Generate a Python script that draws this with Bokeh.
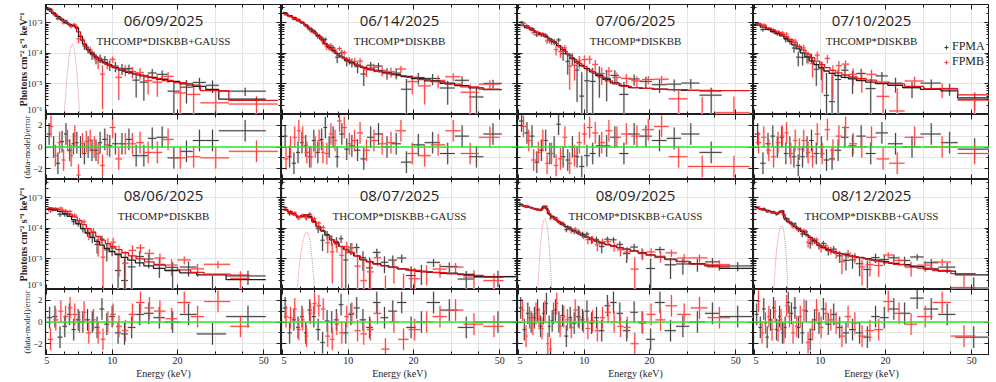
import numpy as np
from bokeh.plotting import figure
from bokeh.layouts import gridplot
from bokeh.models import (Range1d, LogAxis, LinearAxis, FixedTicker, CustomJSTickFormatter,
                          Span, Label, Legend, LegendItem)
from bokeh.embed import file_html
from bokeh.resources import INLINE

# ---------------- data ----------------
DATES = ["06/09/2025", "06/14/2025", "07/06/2025", "07/10/2025",
         "08/06/2025", "08/07/2025", "08/09/2025", "08/12/2025"]
MODELS = ["THCOMP*DISKBB+GAUSS", "THCOMP*DISKBB", "THCOMP*DISKBB", "THCOMP*DISKBB",
          "THCOMP*DISKBB", "THCOMP*DISKBB+GAUSS", "THCOMP*DISKBB+GAUSS", "THCOMP*DISKBB+GAUSS"]
X_TICKS = [5, 10, 20, 50]
X_MINOR = [6, 7, 8, 9, 30, 40]
Y_TICKS = [1e-6, 1e-5, 1e-4, 1e-3]
R_TICKS = [-2, 0, 2]
R_MINOR = [-3, -1, 1, 3]
LEGEND = ["FPMA", "FPMB"]

# Each panel: bin edges (keV), model log10(photons cm^-2 s^-1 keV^-1),
# residual (data-model)/error, relative 1-sigma error, for FPMA (A) and FPMB (B)
P1_EA = [5.0, 5.25, 5.5, 5.75, 6.0, 6.25, 6.5, 6.75, 7.0, 7.3, 7.6, 7.9, 8.25, 8.6, 9.0, 9.5, 10.0, 10.7, 11.5, 12.4, 13.4, 14.6, 16.0, 18.0, 20.5, 23.5, 27.0, 31.0, 51.0]
P1_MA = [-2.58, -2.69, -2.80, -2.91, -3.00, -3.06, -3.10, -3.18, -3.45, -3.70, -3.88, -4.00, -4.12, -4.22, -4.31, -4.39, -4.47, -4.55, -4.62, -4.68, -4.74, -4.79, -4.85, -4.92, -5.00, -5.08, -5.18, -5.50]
P1_RA = [1.2, 0.0, -1.5, 0.5, 1.2, -0.3, 0.3, 0.4, 0.0, -0.6, 0.0, -0.3, -0.3, 0.4, 0.7, 0.1, 0.3, 0.3, 0.7, -0.8, -0.8, 0.8, 0.9, -1.0, -0.4, 0.6, 0.6, 1.5]
P1_SA = [0.08, 0.09, 0.10, 0.10, 0.11, 0.12, 0.13, 0.14, 0.18, 0.22, 0.26, 0.30, 0.33, 0.35, 0.38, 0.40, 0.42, 0.44, 0.45, 0.46, 0.47, 0.50, 0.50, 0.52, 0.55, 0.56, 0.60, 0.55]
P1_EB = [5.1, 5.35, 5.6, 5.85, 6.1, 6.35, 6.6, 6.85, 7.15, 7.45, 7.75, 8.1, 8.45, 8.8, 9.25, 9.75, 10.35, 11.1, 11.9, 12.9, 14.0, 15.3, 17.0, 19.2, 22.0, 25.5, 34.5, 58.0]
P1_MB = [-2.63, -2.74, -2.85, -2.95, -3.03, -3.08, -3.12, -3.30, -3.58, -3.80, -3.95, -4.07, -4.18, -4.27, -4.36, -4.44, -4.51, -4.59, -4.65, -4.71, -4.77, -4.82, -4.89, -4.96, -5.04, -5.22, -5.54]
P1_RB = [1.9, -0.8, 0.4, -1.2, 0.6, -0.8, 1.0, -2.6, 0.3, 0.5, 0.6, 0.0, -0.6, -1.7, 0.2, 1.8, -1.1, 0.3, 0.3, 0.4, -0.5, -0.5, 0.7, -1.0, -0.9, -1.0, -0.4]
P1_SB = [0.08, 0.09, 0.10, 0.10, 0.11, 0.12, 0.13, 0.16, 0.20, 0.24, 0.28, 0.31, 0.34, 0.36, 0.39, 0.41, 0.43, 0.45, 0.46, 0.47, 0.49, 0.50, 0.52, 0.54, 0.56, 0.60, 0.60]
P1_GE = [6.0, 6.1, 6.2, 6.3, 6.4, 6.5, 6.6, 6.7, 6.8, 6.9, 7.0, 7.1]
P1_GF = [-6.1, -5.4, -4.75, -4.25, -3.9, -3.72, -3.72, -3.9, -4.25, -4.75, -5.4, -6.1]

P2_EA = [5.0, 5.25, 5.5, 5.75, 6.0, 6.25, 6.5, 6.8, 7.1, 7.4, 7.7, 8.0, 8.35, 8.7, 9.1, 9.6, 10.1, 10.7, 11.4, 12.2, 13.2, 14.4, 15.8, 17.5, 19.6, 22.5, 26.5, 31.0, 36.0, 42.0, 51.0]
P2_MA = [-2.70, -2.77, -2.84, -2.92, -3.00, -3.08, -3.18, -3.30, -3.42, -3.54, -3.68, -3.80, -3.91, -4.01, -4.12, -4.22, -4.31, -4.39, -4.46, -4.52, -4.58, -4.64, -4.70, -4.76, -4.83, -4.90, -4.98, -5.06, -5.13, -5.19]
P2_RA = [1.0, -0.9, -1.5, -0.5, 0.4, 0.1, -0.9, 0.6, -0.5, 0.7, 1.8, 0.0, 0.9, -0.9, 1.2, -0.2, 0.1, -0.3, -1.1, 0.9, 1.2, 0.0, 0.3, -1.4, 0.2, 0.4, -0.6, 1.0, -0.9, 1.2]
P2_SA = [0.06, 0.07, 0.07, 0.08, 0.09, 0.10, 0.11, 0.13, 0.15, 0.17, 0.20, 0.22, 0.25, 0.27, 0.30, 0.32, 0.33, 0.35, 0.36, 0.38, 0.38, 0.40, 0.42, 0.44, 0.45, 0.48, 0.50, 0.50, 0.55, 0.50]
P2_EB = [5.05, 5.3, 5.55, 5.8, 6.05, 6.3, 6.6, 6.9, 7.2, 7.5, 7.8, 8.15, 8.5, 8.9, 9.35, 9.85, 10.4, 11.0, 11.7, 12.6, 13.7, 15.0, 16.5, 18.5, 21.0, 24.0, 28.0, 33.0, 40.0, 50.0]
P2_MB = [-2.72, -2.79, -2.86, -2.94, -3.02, -3.11, -3.22, -3.34, -3.46, -3.59, -3.73, -3.85, -3.96, -4.07, -4.17, -4.27, -4.35, -4.42, -4.49, -4.55, -4.61, -4.67, -4.73, -4.79, -4.86, -4.93, -5.01, -5.10, -5.17]
P2_RB = [-1.1, 0.0, 0.9, 1.5, 0.9, -0.5, -0.9, 0.0, 0.6, -0.5, -0.6, 1.2, 0.6, 2.4, 1.8, 0.3, 0.6, 1.3, -0.3, 0.6, 0.3, 0.4, 1.5, -0.6, -0.8, 0.2, 1.5, -0.6, 0.9]
P2_SB = [0.06, 0.07, 0.07, 0.08, 0.09, 0.10, 0.12, 0.14, 0.16, 0.18, 0.20, 0.23, 0.25, 0.28, 0.30, 0.32, 0.34, 0.35, 0.37, 0.38, 0.40, 0.41, 0.43, 0.45, 0.47, 0.50, 0.50, 0.55, 0.50]

P3_EA = [5.0, 5.3, 5.6, 5.9, 6.2, 6.5, 6.8, 7.1, 7.45, 7.8, 8.2, 8.6, 9.05, 9.5, 10.0, 10.6, 11.3, 12.2, 13.2, 14.5, 16.0, 18.0, 20.5, 24.0, 28.0, 34.0, 43.0]
P3_MA = [-3.08, -3.16, -3.24, -3.31, -3.38, -3.45, -3.53, -3.63, -3.75, -3.88, -4.02, -4.16, -4.29, -4.40, -4.50, -4.61, -4.73, -4.85, -4.97, -5.06, -5.12, -5.15, -5.17, -5.19, -5.21, -5.23]
P3_RA = [2.4, 1.3, 1.0, -1.4, -0.3, 0.6, -0.6, 0.0, 2.1, -0.9, -1.2, 0.0, -0.9, -1.8, -0.8, -0.6, 0.1, 0.1, 0.9, -0.6, 1.2, 1.0, 0.6, 0.8, 1.2, -0.5]
P3_SA = [0.10, 0.11, 0.12, 0.13, 0.14, 0.16, 0.18, 0.21, 0.25, 0.30, 0.36, 0.42, 0.50, 0.50, 0.75, 0.85, 0.90, 0.90, 0.85, 0.80, 0.75, 0.70, 0.65, 0.65, 0.60, 0.55]
P3_EB = [5.1, 5.4, 5.7, 6.0, 6.3, 6.6, 6.9, 7.25, 7.6, 7.95, 8.35, 8.8, 9.25, 9.75, 10.3, 10.9, 11.6, 12.5, 13.5, 14.8, 16.5, 18.5, 21.0, 24.5, 30.0, 40.0, 58.0]
P3_MB = [-3.10, -3.18, -3.26, -3.33, -3.40, -3.48, -3.57, -3.68, -3.80, -3.93, -4.07, -4.21, -4.33, -4.44, -4.55, -4.66, -4.78, -4.90, -5.00, -5.08, -5.12, -5.15, -5.17, -5.19, -5.21, -5.22]
P3_RB = [1.9, 0.6, -1.2, -0.5, 0.6, -1.5, -0.6, -1.7, -1.1, 0.9, -1.5, -0.8, 0.4, 1.2, 1.8, 1.3, 0.4, 1.5, 0.9, 1.2, 1.0, 1.6, 1.9, -0.9, -1.8, -1.8]
P3_SB = [0.10, 0.11, 0.12, 0.13, 0.14, 0.16, 0.19, 0.22, 0.26, 0.31, 0.37, 0.44, 0.52, 0.60, 0.70, 0.75, 0.75, 0.72, 0.70, 0.68, 0.65, 0.60, 0.58, 0.55, 0.50, 0.45]

P4_EA = [5.0, 5.3, 5.6, 5.9, 6.2, 6.5, 6.8, 7.1, 7.4, 7.75, 8.1, 8.5, 8.9, 9.35, 9.85, 10.4, 11.0, 11.7, 12.5, 13.5, 14.7, 16.2, 18.0, 20.5, 24.0, 29.0, 36.0, 43.0, 60.0]
P4_MA = [-3.08, -3.15, -3.22, -3.29, -3.36, -3.43, -3.51, -3.61, -3.73, -3.86, -3.99, -4.12, -4.25, -4.37, -4.48, -4.58, -4.66, -4.73, -4.79, -4.84, -4.89, -4.94, -4.99, -5.05, -5.12, -5.18, -5.23, -5.46]
P4_RA = [1.2, -1.5, 0.3, 1.0, 0.0, 0.9, -0.6, 0.0, -0.9, -1.7, -0.9, 0.0, 0.6, -0.6, 0.0, -1.2, -1.1, -0.3, 0.9, 0.1, 1.0, -0.6, 1.3, 0.3, 0.0, 1.2, 0.4, -0.2]
P4_SA = [0.10, 0.11, 0.12, 0.13, 0.14, 0.15, 0.17, 0.20, 0.23, 0.27, 0.32, 0.37, 0.42, 0.50, 0.60, 0.70, 0.80, 0.85, 0.80, 0.75, 0.70, 0.65, 0.60, 0.60, 0.55, 0.50, 0.50, 0.50]
P4_EB = [5.05, 5.35, 5.65, 5.95, 6.25, 6.55, 6.85, 7.15, 7.5, 7.85, 8.2, 8.6, 9.0, 9.45, 9.95, 10.5, 11.1, 11.8, 12.6, 13.6, 14.8, 16.3, 18.2, 20.8, 24.5, 30.0, 43.0, 60.0]
P4_MB = [-3.04, -3.11, -3.18, -3.25, -3.32, -3.39, -3.46, -3.55, -3.66, -3.78, -3.90, -4.02, -4.14, -4.26, -4.37, -4.47, -4.56, -4.64, -4.71, -4.77, -4.83, -4.88, -4.94, -5.00, -5.08, -5.16, -5.36]
P4_RB = [0.4, 0.9, -0.3, -0.9, 0.4, 1.0, 1.3, -0.6, 0.6, -0.2, 0.6, -0.5, -0.9, 1.2, -0.6, 1.6, -0.3, 1.0, 1.8, 0.3, 0.0, 0.9, -1.1, -1.5, 0.9, 0.0, -0.6]
P4_SB = [0.10, 0.11, 0.12, 0.13, 0.14, 0.15, 0.17, 0.20, 0.23, 0.27, 0.31, 0.36, 0.41, 0.48, 0.55, 0.62, 0.68, 0.72, 0.70, 0.68, 0.65, 0.62, 0.60, 0.58, 0.55, 0.50, 0.55]

P5_EA = [5.0, 5.3, 5.6, 5.9, 6.2, 6.5, 6.8, 7.15, 7.5, 7.9, 8.3, 8.75, 9.2, 9.7, 10.3, 11.0, 11.8, 12.8, 14.0, 15.5, 17.5, 20.5, 24.5, 33.5, 51.0]
P5_MA = [-3.38, -3.41, -3.45, -3.52, -3.61, -3.72, -3.86, -4.01, -4.16, -4.30, -4.43, -4.55, -4.66, -4.76, -4.86, -4.95, -5.04, -5.13, -5.23, -5.31, -5.38, -5.46, -5.52, -5.68]
P5_RA = [0.4, 0.5, -1.4, -0.4, 0.7, -0.7, 0.2, 0.0, 0.2, 0.0, -0.5, 1.2, -0.2, 0.5, -1.0, -1.1, -0.5, 0.7, 0.8, 0.4, 0.0, 0.7, -1.1, 0.5]
P5_SA = [0.12, 0.13, 0.14, 0.15, 0.17, 0.19, 0.22, 0.26, 0.30, 0.35, 0.40, 0.46, 0.52, 0.60, 0.70, 0.75, 0.80, 0.85, 0.85, 0.85, 0.85, 0.80, 0.75, 0.65]
P5_EB = [5.05, 5.35, 5.65, 5.95, 6.25, 6.55, 6.9, 7.25, 7.6, 8.0, 8.4, 8.85, 9.3, 9.8, 10.4, 11.1, 11.9, 12.9, 14.1, 15.6, 17.6, 20.0, 23.0, 26.5, 35.0, 43.0]
P5_MB = [-3.34, -3.37, -3.40, -3.46, -3.54, -3.63, -3.75, -3.88, -4.01, -4.14, -4.27, -4.39, -4.50, -4.60, -4.70, -4.80, -4.90, -5.00, -5.10, -5.20, -5.28, -5.36, -5.44, -5.50, -5.53]
P5_RB = [-1.6, 0.2, 1.0, 0.5, 1.3, 0.7, 0.0, 0.9, -1.0, 0.2, -1.0, -1.6, 0.0, 0.7, -0.4, -0.8, 0.7, 1.8, 1.3, 1.0, 0.3, 1.8, 0.5, 1.9, -0.4]
P5_SB = [0.12, 0.13, 0.14, 0.15, 0.17, 0.19, 0.22, 0.25, 0.29, 0.34, 0.39, 0.45, 0.50, 0.56, 0.62, 0.68, 0.72, 0.72, 0.70, 0.68, 0.66, 0.62, 0.60, 0.58, 0.55]

P6_EA = [5.0, 5.25, 5.5, 5.75, 6.0, 6.25, 6.5, 6.8, 7.1, 7.45, 7.8, 8.2, 8.6, 9.05, 9.5, 10.0, 10.6, 11.3, 12.1, 13.0, 14.1, 15.3, 16.8, 18.5, 20.5, 23.0, 26.5, 32.0, 38.0, 60.0]
P6_MA = [-3.39, -3.46, -3.54, -3.61, -3.62, -3.56, -3.62, -3.78, -3.94, -4.08, -4.22, -4.37, -4.47, -4.59, -4.69, -4.79, -4.90, -5.02, -5.09, -5.16, -5.22, -5.27, -5.32, -5.37, -5.41, -5.44, -5.47, -5.51, -5.58]
P6_RA = [1.3, -1.0, 0.2, -0.5, 0.5, -1.0, 1.1, 0.5, -0.7, -1.9, 0.1, 0.0, 0.2, 1.6, -1.0, 0.7, 1.3, 0.2, -0.5, 1.8, 0.4, 1.0, 1.8, -0.5, 0.0, 1.8, 1.1, -0.5, 0.0]
P6_SA = [0.12, 0.13, 0.14, 0.14, 0.15, 0.15, 0.17, 0.20, 0.23, 0.27, 0.32, 0.37, 0.42, 0.48, 0.55, 0.60, 0.66, 0.72, 0.75, 0.75, 0.72, 0.70, 0.68, 0.66, 0.64, 0.62, 0.60, 0.58, 0.55]
P6_EB = [5.05, 5.3, 5.55, 5.8, 6.05, 6.3, 6.55, 6.85, 7.15, 7.5, 7.85, 8.25, 8.65, 9.1, 9.6, 10.1, 10.7, 11.4, 12.2, 13.1, 14.2, 15.5, 17.0, 19.0, 21.5, 24.5, 28.5, 34.0, 42.0, 52.0]
P6_MB = [-3.41, -3.48, -3.56, -3.62, -3.60, -3.56, -3.66, -3.81, -3.96, -4.10, -4.24, -4.38, -4.49, -4.60, -4.70, -4.80, -4.91, -5.03, -5.10, -5.17, -5.23, -5.28, -5.33, -5.38, -5.42, -5.45, -5.49, -5.54, -5.60]
P6_RB = [0.5, 0.4, 1.2, -0.7, 0.2, -1.3, 0.8, 1.7, 1.5, 1.2, -1.3, -1.6, -0.2, -1.0, 0.5, 0.8, -0.8, -1.1, -0.7, 0.8, -2.5, 0.0, -1.6, -0.7, 0.0, 0.5, 1.1, -0.2, -0.4]
P6_SB = [0.12, 0.13, 0.14, 0.14, 0.15, 0.15, 0.17, 0.20, 0.23, 0.27, 0.32, 0.37, 0.42, 0.48, 0.55, 0.60, 0.66, 0.72, 0.75, 0.75, 0.35, 0.70, 0.50, 0.66, 0.64, 0.62, 0.60, 0.58, 0.55]
P6_GE = [5.8, 5.9, 6.0, 6.1, 6.2, 6.3, 6.4, 6.5, 6.6, 6.7, 6.8, 6.9, 7.0]
P6_GF = [-6.1, -5.5, -5.0, -4.65, -4.4, -4.22, -4.13, -4.13, -4.25, -4.5, -4.9, -5.45, -6.1]

P7_EA = [5.0, 5.2, 5.4, 5.6, 5.8, 6.0, 6.2, 6.4, 6.6, 6.8, 7.0, 7.25, 7.5, 7.8, 8.1, 8.45, 8.8, 9.2, 9.6, 10.05, 10.55, 11.1, 11.7, 12.4, 13.2, 14.1, 15.1, 16.3, 17.7, 19.3, 21.2, 23.5, 26.5, 30.5, 36.0, 42.0, 60.0]
P7_MA = [-3.24, -3.27, -3.30, -3.33, -3.37, -3.40, -3.40, -3.31, -3.35, -3.52, -3.63, -3.71, -3.79, -3.87, -3.95, -4.02, -4.09, -4.16, -4.22, -4.29, -4.36, -4.42, -4.48, -4.53, -4.58, -4.63, -4.68, -4.74, -4.80, -4.87, -4.94, -5.01, -5.08, -5.16, -5.23, -5.31]
P7_RA = [1.3, -0.7, 0.8, 0.0, 0.4, 1.1, -0.4, 0.8, 1.7, -0.4, 0.1, 1.1, 0.0, 0.6, -1.3, 0.4, -0.1, 0.5, 0.2, 1.0, -0.1, 0.4, -0.8, 1.5, 1.8, 0.8, -0.8, 0.9, 0.0, -1.6, 1.8, -0.8, -0.4, 0.0, 0.8, 0.5]
P7_SA = [0.05, 0.05, 0.06, 0.06, 0.06, 0.07, 0.07, 0.07, 0.08, 0.09, 0.10, 0.11, 0.12, 0.14, 0.15, 0.17, 0.19, 0.21, 0.23, 0.25, 0.27, 0.29, 0.30, 0.32, 0.33, 0.34, 0.36, 0.37, 0.38, 0.40, 0.42, 0.43, 0.45, 0.45, 0.45, 0.40]
P7_EB = [5.1, 5.3, 5.5, 5.7, 5.9, 6.1, 6.3, 6.5, 6.7, 6.9, 7.1, 7.35, 7.6, 7.9, 8.2, 8.55, 8.9, 9.3, 9.7, 10.15, 10.65, 11.2, 11.8, 12.5, 13.3, 14.2, 15.2, 16.4, 17.8, 19.4, 21.3, 23.7, 26.8, 31.0, 37.0, 47.0]
P7_MB = [-3.26, -3.29, -3.32, -3.35, -3.39, -3.41, -3.36, -3.30, -3.42, -3.57, -3.66, -3.74, -3.82, -3.90, -3.97, -4.04, -4.11, -4.18, -4.24, -4.30, -4.37, -4.43, -4.49, -4.54, -4.59, -4.64, -4.69, -4.75, -4.81, -4.88, -4.95, -5.02, -5.09, -5.17, -5.26]
P7_RB = [1.1, -1.3, 0.4, -0.2, 0.8, 0.3, -0.6, 1.0, -2.0, -2.5, 0.8, 1.7, -0.4, 0.5, 0.2, -0.5, 1.1, 0.4, 0.0, -0.6, 0.1, -0.8, 0.4, 0.9, 0.0, -0.4, -0.5, -2.0, -0.1, 0.7, 0.2, 1.5, 0.7, 1.3, 0.4]
P7_SB = [0.05, 0.05, 0.06, 0.06, 0.06, 0.07, 0.07, 0.07, 0.08, 0.09, 0.10, 0.11, 0.12, 0.14, 0.15, 0.17, 0.19, 0.21, 0.23, 0.25, 0.27, 0.29, 0.30, 0.32, 0.33, 0.34, 0.36, 0.37, 0.38, 0.40, 0.42, 0.43, 0.45, 0.45, 0.45]
P7_GE = [6.1, 6.2, 6.3, 6.4, 6.5, 6.6, 6.7, 6.8, 6.9, 7.0, 7.1]
P7_GF = [-6.1, -5.2, -4.5, -4.0, -3.75, -3.68, -3.8, -4.1, -4.6, -5.3, -6.1]

P8_EA = [5.0, 5.2, 5.4, 5.6, 5.8, 6.0, 6.2, 6.4, 6.6, 6.8, 7.0, 7.25, 7.5, 7.8, 8.1, 8.45, 8.8, 9.2, 9.65, 10.1, 10.6, 11.2, 11.9, 12.7, 13.6, 14.6, 15.8, 17.2, 18.8, 20.7, 23.0, 26.0, 30.0, 35.0, 42.0, 60.0]
P8_MA = [-3.33, -3.36, -3.39, -3.42, -3.46, -3.50, -3.52, -3.48, -3.43, -3.68, -3.78, -3.86, -3.93, -4.01, -4.10, -4.20, -4.30, -4.42, -4.55, -4.62, -4.70, -4.77, -4.82, -4.86, -4.91, -4.95, -4.99, -5.04, -5.09, -5.15, -5.19, -5.25, -5.33, -5.40, -5.52]
P8_RA = [0.7, -0.5, 1.2, -1.4, 0.2, 1.3, -0.7, 0.5, -1.0, -0.5, 1.8, 0.8, 1.3, -0.5, -1.0, 1.0, -1.6, 0.2, -0.1, 1.2, -0.2, 0.7, -0.5, -1.0, -0.7, -1.0, -1.4, 0.5, 0.4, 1.2, 0.8, 2.2, 1.2, 0.7, -1.4]
P8_SA = [0.06, 0.06, 0.07, 0.07, 0.07, 0.08, 0.08, 0.08, 0.09, 0.10, 0.11, 0.12, 0.14, 0.16, 0.18, 0.20, 0.22, 0.24, 0.26, 0.28, 0.30, 0.32, 0.34, 0.35, 0.36, 0.38, 0.40, 0.41, 0.42, 0.44, 0.46, 0.48, 0.50, 0.50, 0.45]
P8_EB = [5.1, 5.3, 5.5, 5.7, 5.9, 6.1, 6.3, 6.5, 6.7, 6.9, 7.1, 7.35, 7.65, 7.95, 8.25, 8.6, 9.0, 9.4, 9.85, 10.35, 10.9, 11.5, 12.2, 13.0, 13.9, 15.0, 16.2, 17.7, 19.5, 21.7, 24.5, 28.0, 33.0, 40.0, 52.0]
P8_MB = [-3.35, -3.38, -3.41, -3.44, -3.48, -3.51, -3.50, -3.45, -3.55, -3.73, -3.82, -3.90, -3.98, -4.06, -4.15, -4.25, -4.36, -4.48, -4.58, -4.66, -4.74, -4.80, -4.84, -4.89, -4.93, -4.97, -5.02, -5.07, -5.13, -5.18, -5.23, -5.30, -5.38, -5.48]
P8_RB = [1.9, -1.0, -0.1, 0.5, -0.7, 1.0, -0.8, 0.2, -1.0, 1.5, 0.5, -1.0, -0.4, 0.5, 1.1, -1.9, -0.7, 1.1, -0.5, 0.8, 0.2, -0.1, -1.3, 0.5, -0.1, -1.3, -0.8, -0.7, 1.9, 0.8, -0.2, 0.5, 1.8, -1.3]
P8_SB = [0.06, 0.06, 0.07, 0.07, 0.07, 0.08, 0.08, 0.08, 0.09, 0.10, 0.11, 0.12, 0.14, 0.16, 0.18, 0.20, 0.22, 0.24, 0.26, 0.28, 0.30, 0.32, 0.34, 0.35, 0.36, 0.38, 0.40, 0.41, 0.42, 0.44, 0.46, 0.48, 0.50, 0.50]
P8_GE = [6.1, 6.2, 6.3, 6.4, 6.5, 6.6, 6.7, 6.8, 6.9, 7.0, 7.1]
P8_GF = [-6.1, -5.3, -4.7, -4.3, -4.05, -3.93, -3.92, -4.1, -4.5, -5.1, -6.0]

PANELS = [
    (P1_EA, P1_MA, P1_RA, P1_SA, P1_EB, P1_MB, P1_RB, P1_SB, P1_GE, P1_GF),
    (P2_EA, P2_MA, P2_RA, P2_SA, P2_EB, P2_MB, P2_RB, P2_SB, None, None),
    (P3_EA, P3_MA, P3_RA, P3_SA, P3_EB, P3_MB, P3_RB, P3_SB, None, None),
    (P4_EA, P4_MA, P4_RA, P4_SA, P4_EB, P4_MB, P4_RB, P4_SB, None, None),
    (P5_EA, P5_MA, P5_RA, P5_SA, P5_EB, P5_MB, P5_RB, P5_SB, None, None),
    (P6_EA, P6_MA, P6_RA, P6_SA, P6_EB, P6_MB, P6_RB, P6_SB, P6_GE, P6_GF),
    (P7_EA, P7_MA, P7_RA, P7_SA, P7_EB, P7_MB, P7_RB, P7_SB, P7_GE, P7_GF),
    (P8_EA, P8_MA, P8_RA, P8_SA, P8_EB, P8_MB, P8_RB, P8_SB, P8_GE, P8_GF),
]

# ---------------- style / layout ----------------
SERIF = "Liberation Serif"
SANS = "Open Sans"
INK = "#1e1e1e"
BLACK = "#404040"
BLACK_HALO = "#d8d8d8"
RED = "#ff4040"
RED_HALO = "#ffcccc"
BLACK_MODEL = "#202020"
RED_MODEL = "#e8141a"
GAUSS_COLOR = "#e27a7a"
GREEN = "#2bea2b"

X_RANGE = (4.93, 60.3)
SPEC_RANGE = (1e-6, 3.9e-3)
RES_RANGE = (-3.0, 3.0)
Y_MINOR = [k * 10.0 ** e for e in range(-6, -2) for k in range(2, 10)]

LEFT = 45
FW = 236
SPEC_H = 110
RES_H = 65
TOP_PAD = 4
BOTTOM_PAD = 27

SUP_JS = """
const e = Math.round(Math.log10(tick));
const m = {'-':'\u207b','0':'\u2070','1':'\u00b9','2':'\u00b2','3':'\u00b3','4':'\u2074','5':'\u2075','6':'\u2076','7':'\u2077','8':'\u2078','9':'\u2079'};
return '10' + String(e).split('').map(c => m[c]).join('');
"""


def style_axis(ax, labeled, size="10px"):
    ax.major_tick_in = 5
    ax.major_tick_out = 0
    ax.minor_tick_in = 3
    ax.minor_tick_out = 0
    ax.axis_line_color = INK
    ax.axis_line_width = 1.2
    ax.major_tick_line_color = INK
    ax.minor_tick_line_color = INK
    ax.major_tick_line_width = 1
    ax.minor_tick_line_width = 1
    if labeled:
        ax.major_label_text_font = SERIF
        ax.major_label_text_font_size = size
        ax.major_label_text_color = INK
        ax.major_label_standoff = 3
    else:
        ax.formatter = CustomJSTickFormatter(code="return '';")
        ax.major_label_text_font_size = "0px"
        ax.major_label_standoff = 0


def x_axis(labeled, label=None):
    ax = LogAxis(ticker=FixedTicker(ticks=X_TICKS, minor_ticks=X_MINOR))
    if labeled:
        ax.formatter = CustomJSTickFormatter(code="return String(tick);")
    style_axis(ax, labeled, "10px")
    if label:
        ax.axis_label = label
        ax.axis_label_text_font = SERIF
        ax.axis_label_text_font_size = "10px"
        ax.axis_label_text_font_style = "normal"
        ax.axis_label_text_color = INK
        ax.axis_label_standoff = 1
        ax.major_label_standoff = 2
    return ax


def spec_y_axis(labeled, label=None):
    ax = LogAxis(ticker=FixedTicker(ticks=Y_TICKS, minor_ticks=Y_MINOR))
    if labeled:
        ax.formatter = CustomJSTickFormatter(code=SUP_JS)
    style_axis(ax, labeled, "9px")
    if label:
        ax.axis_label = label
        ax.axis_label_text_font = SERIF
        ax.axis_label_text_font_size = "10px"
        ax.axis_label_text_font_style = "bold"
        ax.axis_label_text_color = INK
        ax.axis_label_standoff = -5
    return ax


def res_y_axis(labeled, label=None):
    ax = LinearAxis(ticker=FixedTicker(ticks=R_TICKS, minor_ticks=R_MINOR))
    style_axis(ax, labeled, "9px")
    if label:
        ax.axis_label = label
        ax.axis_label_text_font = SERIF
        ax.axis_label_text_font_size = "8.5px"
        ax.axis_label_text_font_style = "normal"
        ax.axis_label_text_color = INK
        ax.axis_label_standoff = -2
    return ax


def make_fig(kind, col, top_row, bottom_row):
    left = LEFT if col == 0 else 0
    if kind == "spec":
        h = SPEC_H + (TOP_PAD if top_row else 0)
        yr, ytype = Range1d(*SPEC_RANGE), "log"
        mt, mb = (TOP_PAD if top_row else 0), 0
    else:
        h = RES_H + (BOTTOM_PAD if bottom_row else 0)
        yr, ytype = Range1d(*RES_RANGE), "linear"
        mt, mb = 0, (BOTTOM_PAD if bottom_row else 0)
    p = figure(width=FW + left, height=h, x_axis_type="log", y_axis_type=ytype,
               x_range=Range1d(*X_RANGE), y_range=yr,
               x_axis_location=None, y_axis_location=None,
               toolbar_location=None, output_backend="svg",
               min_border=0, min_border_left=left, min_border_right=0,
               min_border_top=mt, min_border_bottom=mb)
    p.outline_line_color = INK
    p.outline_line_width = 1
    p.background_fill_color = "white"
    p.border_fill_color = "white"
    lab_x = (kind == "res" and bottom_row)
    p.add_layout(x_axis(lab_x, "Energy (keV)" if lab_x else None), "below")
    p.add_layout(x_axis(False), "above")
    if kind == "spec":
        p.add_layout(spec_y_axis(col == 0, "Photons cm\u207b\u00b2 s\u207b\u00b9 keV\u207b\u00b9" if col == 0 else None), "left")
        p.add_layout(spec_y_axis(False), "right")
    else:
        p.add_layout(res_y_axis(col == 0, "(data-model)/error" if col == 0 else None), "left")
        p.add_layout(res_y_axis(False), "right")
    return p


def bin_arrays(edges, mlog, resid, sig):
    n = min(len(edges) - 1, len(mlog), len(resid), len(sig))
    e = np.asarray(edges[:n + 1], float)
    lo, hi = e[:-1], e[1:]
    c = 0.5 * (lo + hi)
    m = 10.0 ** np.asarray(mlog[:n], float)
    r = np.asarray(resid[:n], float)
    s = np.asarray(sig[:n], float) * m
    f = m + r * s
    f = np.where(f > 0, f, 1e-9)
    flo = np.maximum(f - s, 1e-9)
    fhi = f + s
    return e, lo, hi, c, m, r, f, flo, fhi


def yfrac(f):
    lo, hi = np.log10(SPEC_RANGE)
    return 10 ** (lo + f * (hi - lo))


XMID = 10 ** np.mean(np.log10(X_RANGE))

spec_figs, res_figs = [], []
for i, panel in enumerate(PANELS):
    EA, MA, RA, SA, EB, MB, RB, SB, GE, GF = panel
    row, col = divmod(i, 4)
    ps = make_fig("spec", col, row == 0, row == 1)
    pr = make_fig("res", col, row == 0, row == 1)

    sets = [(bin_arrays(EA, MA, RA, SA), BLACK, BLACK_HALO, BLACK_MODEL),
            (bin_arrays(EB, MB, RB, SB), RED, RED_HALO, RED_MODEL)]
    for lw, which in ((2.2, 1), (1.0, 0)):
        for arr, col_main, col_halo, _ in sets:
            e, lo, hi, c, m, r, f, flo, fhi = arr
            colr = col_halo if which else col_main
            ps.segment(x0=lo, y0=f, x1=hi, y1=f, line_color=colr, line_width=lw)
            ps.segment(x0=c, y0=flo, x1=c, y1=fhi, line_color=colr, line_width=lw)
            pr.segment(x0=lo, y0=r, x1=hi, y1=r, line_color=colr, line_width=lw)
            pr.segment(x0=c, y0=r - 1, x1=c, y1=r + 1, line_color=colr, line_width=lw)
    if GE is not None:
        ps.line(x=GE, y=10.0 ** np.asarray(GF), line_color=GAUSS_COLOR, line_width=0.9, line_dash="1 1")
    for arr, _, _, col_model in sets:
        e, lo, hi, c, m, r, f, flo, fhi = arr
        ps.line(x=np.repeat(e, 2)[1:-1], y=np.repeat(m, 2), line_color=col_model, line_width=1.3)

    pr.add_layout(Span(location=0, dimension="width", line_color=GREEN, line_width=1.5))

    ps.add_layout(Label(x=XMID, y=yfrac(0.857), text=DATES[i], text_align="center",
                        text_baseline="middle", text_font=SANS, text_font_size="15px",
                        text_color=INK))
    ps.add_layout(Label(x=XMID, y=yfrac(0.670), text=MODELS[i], text_align="center",
                        text_baseline="middle", text_font=SERIF, text_font_size="11px",
                        text_color=INK))
    if i == 3:
        # legend proxies: one point each, placed outside the visible ranges
        da = ps.scatter(x=[1.0], y=[1e-9], marker="cross", size=10, line_color=BLACK, line_width=1.2)
        db = ps.scatter(x=[1.0], y=[1e-9], marker="cross", size=10, line_color=RED, line_width=1.2)
        leg = Legend(items=[LegendItem(label=LEGEND[0], renderers=[da]),
                            LegendItem(label=LEGEND[1], renderers=[db])],
                     location=(188, 45), orientation="vertical",
                     border_line_color=None, background_fill_alpha=0,
                     label_text_font=SERIF, label_text_font_size="12px",
                     label_text_color=INK, glyph_width=10, glyph_height=10,
                     label_height=10, label_standoff=1, spacing=0, padding=0, margin=0)
        ps.add_layout(leg)
    spec_figs.append(ps)
    res_figs.append(pr)

grid = gridplot([spec_figs[0:4], res_figs[0:4], spec_figs[4:8], res_figs[4:8]],
                toolbar_location=None)

open("out.html", "w").write(file_html(grid, INLINE))
